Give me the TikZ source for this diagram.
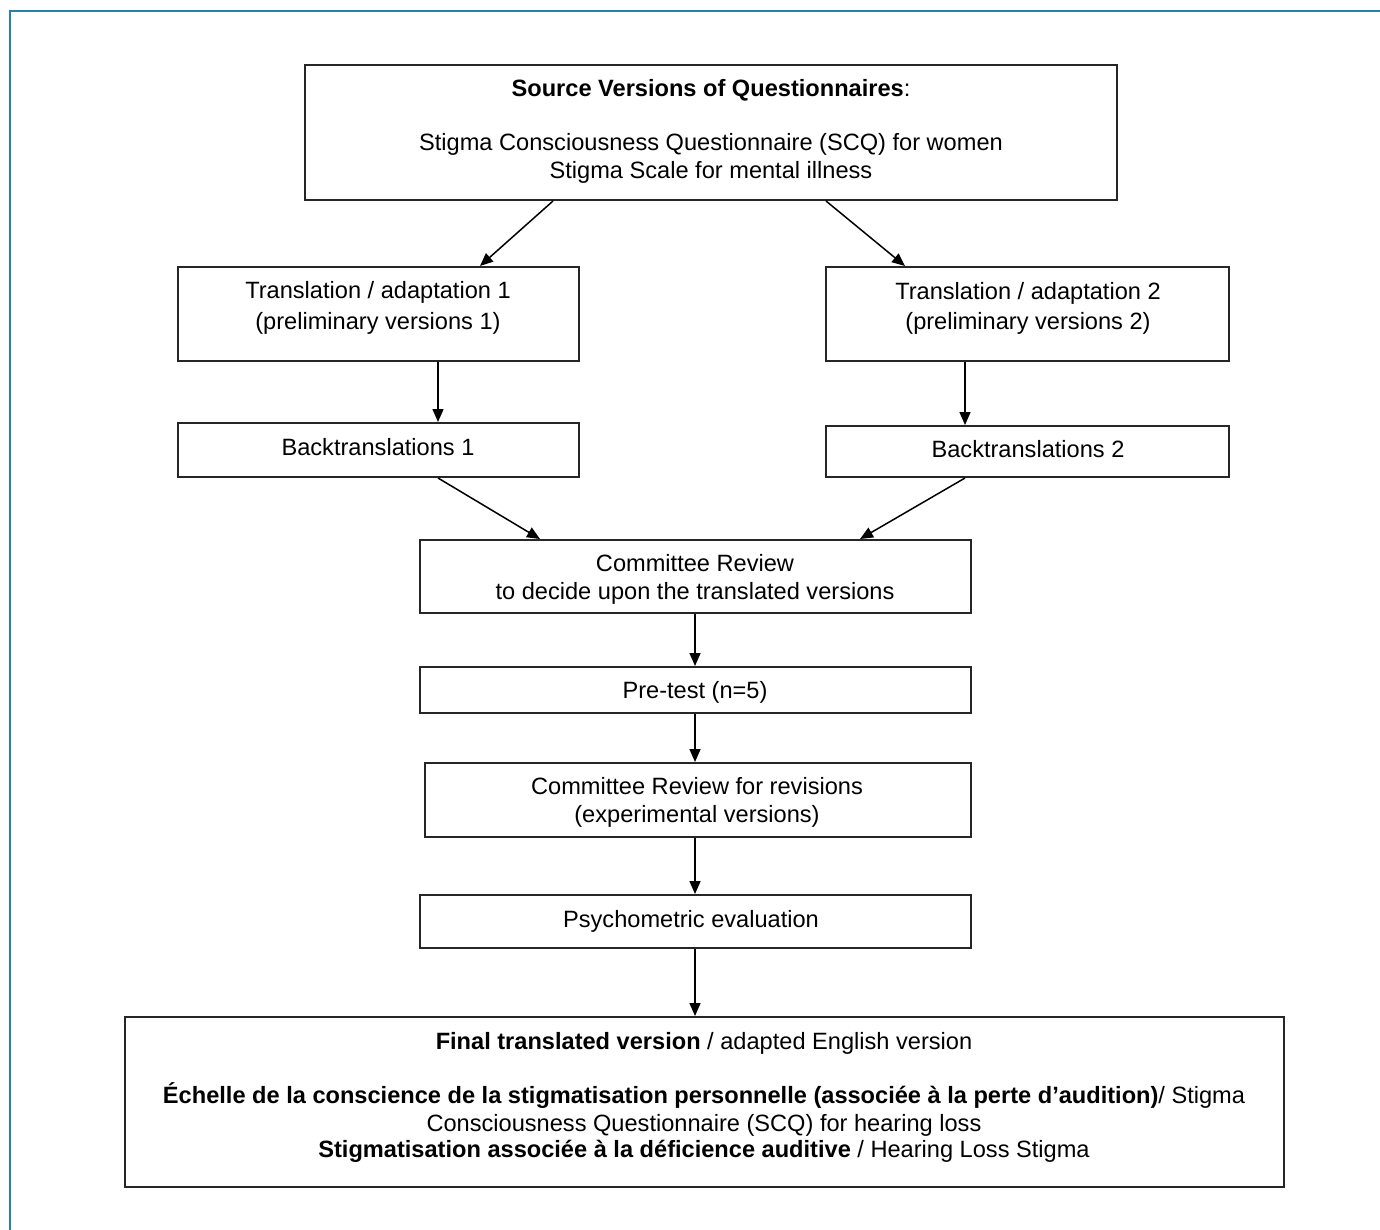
\documentclass[tikz,border=0pt]{standalone}
\usepackage{fontspec}
\setmainfont{Liberation Sans}
\usetikzlibrary{arrows.meta}
\begin{document}
\begin{tikzpicture}[x=0.5pt,y=-0.5pt,
  box/.style={draw=black!85,line width=1pt,inner sep=0},
  lbl/.style={inner sep=0,anchor=base,font=\fontsize{11.8pt}{14pt}\selectfont},
  arr/.style={-{Triangle[length=6.5pt,width=5.5pt]},line width=0.75pt,black}]
\useasboundingbox (0,0) rectangle (1380,1230);
\fill[white] (0,0) rectangle (1380,1230);
\draw[color={rgb,255:red,40;green,130;blue,170},line width=1pt] (10,1230) -- (10,11) -- (1380,11);
% boxes
\node[box, minimum width=406pt, minimum height=67.5pt] (src) at (711,132.5) {};
\node[box, minimum width=200.5pt, minimum height=47pt] (t1) at (378.5,314) {};
\node[box, minimum width=201.5pt, minimum height=47pt] (t2) at (1027.5,314) {};
\node[box, minimum width=200.5pt, minimum height=27pt] (b1) at (378.5,450) {};
\node[box, minimum width=201.5pt, minimum height=25.5pt] (b2) at (1027.5,451.5) {};
\node[box, minimum width=275.5pt, minimum height=36.5pt] (cr) at (695.5,576.5) {};
\node[box, minimum width=275.5pt, minimum height=23pt] (pt) at (695.5,690) {};
\node[box, minimum width=273pt, minimum height=37pt] (rev) at (698,800) {};
\node[box, minimum width=275.5pt, minimum height=26.5pt] (psy) at (695.5,921.5) {};
\node[box, minimum width=579.5pt, minimum height=85pt] (fin) at (704.5,1102) {};
% texts
\node[lbl] (s1) at (711,97) {\textbf{Source Versions of Questionnaires}:};
\node[lbl] (s2) at (711,151) {Stigma Consciousness Questionnaire (SCQ) for women};
\node[lbl] (s3) at (711,179) {Stigma Scale for mental illness};
\node[lbl] (t1a) at (378,298) {Translation / adaptation 1};
\node[lbl] (t1b) at (378,329) {(preliminary versions 1)};
\node[lbl] (t2a) at (1028,299) {Translation / adaptation 2};
\node[lbl] (t2b) at (1028,329) {(preliminary versions 2)};
\node[lbl] (b1t) at (378,455) {Backtranslations 1};
\node[lbl] (b2t) at (1028,457) {Backtranslations 2};
\node[lbl] (c1) at (695,571) {Committee Review};
\node[lbl] (c2) at (695,599) {to decide upon the translated versions};
\node[lbl] (pt1) at (695,698) {Pre-test (n=5)};
\node[lbl] (r1) at (697,794) {Committee Review for revisions};
\node[lbl] (r2) at (697,822) {(experimental versions)};
\node[lbl] (ps1) at (691,927) {Psychometric evaluation};
\node[lbl] (f1) at (704,1049) {\textbf{Final translated version} / adapted English version};
\node[lbl] (f2) at (704,1103) {\textbf{Échelle de la conscience de la stigmatisation personnelle (associée à la perte d’audition)}/ Stigma};
\node[lbl] (f3) at (704,1131) {Consciousness Questionnaire (SCQ) for hearing loss};
\node[lbl] (f4) at (704,1157) {\textbf{Stigmatisation associée à la déficience auditive} / Hearing Loss Stigma};
% arrows
\draw[arr] (src.south -| 553,0) -- (t1.north -| 480,0);
\draw[arr] (src.south -| 826,0) -- (t2.north -| 905,0);
\draw[arr] (t1.south -| 438,0) -- (b1.north -| 438,0);
\draw[arr] (t2.south -| 965,0) -- (b2.north -| 965,0);
\draw[arr] (b1.south -| 438,0) -- (cr.north -| 540,0);
\draw[arr] (b2.south -| 965,0) -- (cr.north -| 860,0);
\draw[arr] (cr.south -| 695,0) -- (pt.north -| 695,0);
\draw[arr] (pt.south -| 695,0) -- (rev.north -| 695,0);
\draw[arr] (rev.south -| 695,0) -- (psy.north -| 695,0);
\draw[arr] (psy.south -| 695,0) -- (fin.north -| 695,0);
\end{tikzpicture}
\end{document}
